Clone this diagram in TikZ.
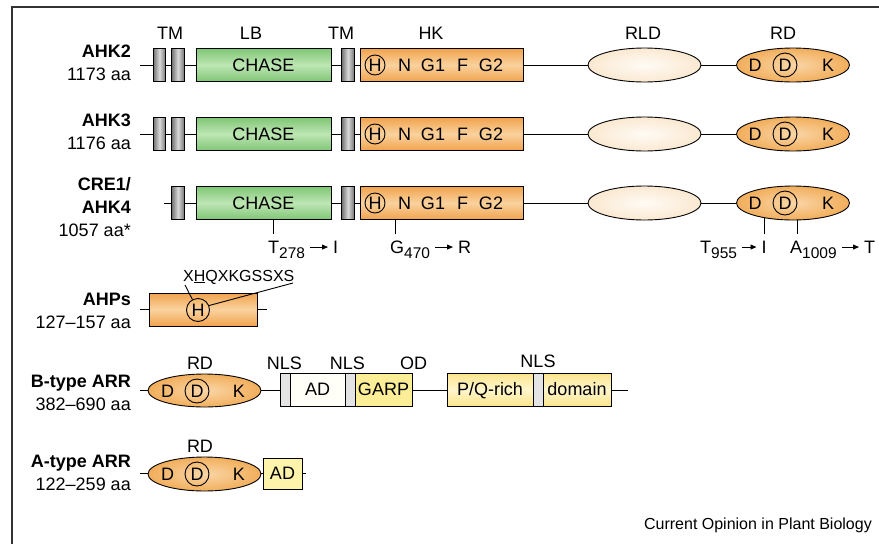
\documentclass[tikz,border=0pt]{standalone}
\usepackage{fontspec}
\setmainfont{Liberation Sans}
\usetikzlibrary{backgrounds,arrows.meta,shapes.geometric}

\definecolor{tmdark}{RGB}{115,115,115}
\definecolor{tmlight}{RGB}{218,218,218}
\definecolor{grnedge}{RGB}{128,198,118}
\definecolor{grnmid}{RGB}{190,230,180}
\definecolor{orgedge}{RGB}{240,163,78}
\definecolor{orgmid}{RGB}{250,210,158}
\definecolor{rdout}{RGB}{236,150,45}
\definecolor{rdin}{RGB}{250,214,168}
\definecolor{rldout}{RGB}{246,218,180}
\definecolor{rldin}{RGB}{255,251,245}
\definecolor{yeledge}{RGB}{252,228,140}
\definecolor{yelmid}{RGB}{255,246,205}
\definecolor{garpcol}{RGB}{252,238,150}
\definecolor{adcol}{RGB}{255,255,248}
\definecolor{nlscol}{RGB}{228,228,228}
\definecolor{aadcol}{RGB}{253,243,170}
\definecolor{framecol}{RGB}{50,50,50}

\pgfdeclareradialshading{rdshade}{\pgfpoint{0bp}{0bp}}{color(0bp)=(rdin); color(40bp)=(rdout); color(50bp)=(rdout)}
\pgfdeclareradialshading{rldshade}{\pgfpoint{0bp}{0bp}}{color(0bp)=(rldin); color(45bp)=(rldout); color(50bp)=(rldout)}

\newcommand{\mysub}[1]{\raisebox{-5pt}{\fontsize{15.5}{17}\selectfont #1}}

\begin{document}
\begin{tikzpicture}[x=1pt,y=-1pt,
  every node/.style={font=\fontsize{18}{21}\selectfont},
  outl/.style={draw=black, line width=0.9pt},
  txt/.style={inner sep=0pt, text height=12.9pt, text depth=0pt},
  tm/.style={outl, inner sep=0pt, minimum width=12.5pt, minimum height=33pt,
    left color=tmdark, right color=tmdark, middle color=tmlight},
  chase/.style={outl, txt, minimum width=135pt, minimum height=33pt,
    top color=grnedge, bottom color=grnedge, middle color=grnmid},
  hk/.style={outl, inner sep=0pt, minimum width=163pt, minimum height=33pt,
    top color=orgedge, bottom color=orgedge, middle color=orgmid},
  rld/.style={outl, ellipse, inner sep=0pt, minimum width=113pt, minimum height=34pt,
    shade, shading=rldshade},
  rd/.style={outl, ellipse, inner sep=0pt, minimum width=113pt, minimum height=34pt,
    shade, shading=rdshade},
  circ/.style={draw=black, line width=0.9pt, circle, inner sep=0pt, minimum size=20pt,
    text height=12.9pt, text depth=0pt},
  nls/.style={outl, inner sep=0pt, minimum width=10pt, minimum height=33pt, fill=nlscol},
  ybox/.style={outl, txt, minimum height=33pt, top color=yeledge, bottom color=yeledge, middle color=yelmid},
  bone/.style={line width=0.9pt},
  mutl/.style={inner sep=0pt, text height=12.9pt, text depth=1pt, anchor=base west},
  mutarrow/.style={line width=0.9pt, -{Triangle[length=6pt,width=5pt]}, shorten <=5pt, shorten >=5pt},
  namel/.style={anchor=base east, inner sep=0pt, font=\fontsize{18}{21}\selectfont\bfseries},
  sizel/.style={anchor=base east, inner sep=0pt},
  doml/.style={anchor=base, inner sep=0pt}
]
\useasboundingbox (0,0) rectangle (879,544);

% frame
\coordinate (fa) at (12,544);
\coordinate (fb) at (12,7);
\coordinate (fc) at (879,7);
\draw[framecol, line width=1.2pt] (fa) -- (fb) -- (fc);

% domain labels (top)
\node[doml] (dl1) at (170,39) {TM};
\node[doml] (dl2) at (251,39) {LB};
\node[doml] (dl3) at (341,39) {TM};
\node[doml] (dl4) at (431,39) {HK};
\node[doml] (dl5) at (643,39) {RLD};
\node[doml] (dl6) at (783,39) {RD};

% row names
\node[namel] (nm1) at (131,57) {AHK2};
\node[sizel] (sz1) at (131,80) {1173 aa};
\node[namel] (nm2) at (131,126) {AHK3};
\node[sizel] (sz2) at (131,149) {1176 aa};
\node[namel] (nm3a) at (131,190) {CRE1/};
\node[namel] (nm3b) at (131,213) {AHK4};
\node[sizel] (sz3) at (131,236) {1057 aa*};

% kinase rows
\foreach \r/\y/\s in {1/65/140,2/134/140,3/203/164}{
  \coordinate (bl\r) at (\s,\y);
  \node[chase] (ch\r) at (263.5,\y) {CHASE};
  \node[tm] (tmb\r) at (178,\y) {};
  \node[tm] (tmc\r) at (348,\y) {};
  \node[hk] (hk\r) at (441.5,\y) {};
  \node[circ] (hh\r) at (375,\y) {H};
  \node[txt] (hn\r) at (404.5,\y) {N};
  \node[txt] (hg\r) at (433,\y) {G1};
  \node[txt] (hf\r) at (462.5,\y) {F};
  \node[txt] (hgg\r) at (491,\y) {G2};
  \node[rld] (rld\r) at (644.5,\y) {};
  \node[rd] (rd\r) at (793,\y) {};
  \node[txt] (rdd\r) at (755,\y) {D};
  \node[circ, minimum size=24pt] (rdc\r) at (785,\y) {D};
  \node[txt] (rdk\r) at (828,\y) {K};
  \begin{pgfonlayer}{background}
    \draw[bone] (bl\r) -- (rd\r);
  \end{pgfonlayer}
}
\node[tm] (tma1) at (159.5,65) {};
\node[tm] (tma2) at (159.5,134) {};

% mutations (CRE1/AHK4)
\node[mutl] (mt1) at (268,253) {T\mysub{278}};
\node[mutl] (mr1) at (333,253) {I};
\node[mutl] (mt2) at (390,253) {G\mysub{470}};
\node[mutl] (mr2) at (458,253) {R};
\node[mutl] (mt3) at (700,253) {T\mysub{955}};
\node[mutl] (mr3) at (761.5,253) {I};
\node[mutl] (mt4) at (790,253) {A\mysub{1009}};
\node[mutl] (mr4) at (864,253) {T};
\draw[mutarrow] (mt1) -- (mr1);
\draw[mutarrow] (mt2) -- (mr2);
\draw[mutarrow] (mt3) -- (mr3);
\draw[mutarrow] (mt4) -- (mr4);
\coordinate (tk1) at (273,234);
\coordinate (tk2) at (395,234);
\coordinate (tk3) at (764,234);
\coordinate (tk4) at (797,234);
\begin{pgfonlayer}{background}
  \draw[bone] (tk1) -- (tk1 |- ch3.center);
  \draw[bone] (tk2) -- (tk2 |- hk3.center);
  \draw[bone] (tk3) -- (tk3 |- rd3.center);
  \draw[bone] (tk4) -- (tk4 |- rd3.center);
\end{pgfonlayer}

% AHPs
\node[namel] (nm4) at (131,305) {AHPs};
\node[sizel] (sz4) at (131,328) {127–157 aa};
\coordinate (bl4) at (140,309.5);
\coordinate (br4) at (267,309.5);
\node[hk, minimum width=108pt] (hp) at (203,309.5) {};
\node[circ, minimum size=23pt] (hph) at (198,310) {H};
\node[anchor=base west, inner sep=0pt, font=\fontsize{16}{19}\selectfont] (seq) at (183,281) {X\underline{H}QXKGSSXS};
\coordinate (sq1) at (185,285);
\coordinate (sq2) at (293,283);
\draw[bone] (hph.118) -- (sq1);
\draw[bone] (hph.22) -- (sq2);
\begin{pgfonlayer}{background}
  \draw[bone] (bl4) -- (br4);
\end{pgfonlayer}

% B-type ARR
\node[namel] (nm5) at (131,387) {B-type ARR};
\node[sizel] (sz5) at (131,410) {382–690 aa};
\node[doml] (bl5l1) at (200,369) {RD};
\node[doml] (bl5l2) at (284.5,369) {NLS};
\node[doml] (bl5l3) at (347.5,369) {NLS};
\node[doml] (bl5l4) at (413.5,369) {OD};
\node[doml] (bl5l5) at (538,367) {NLS};
\coordinate (bl5) at (140,390);
\coordinate (br5) at (628,390);
\node[rd, minimum height=33pt] (rd5) at (204.5,390.5) {};
\node[txt] (rdd5) at (167.5,391) {D};
\node[circ, minimum size=24pt] (rdc5) at (197,391) {D};
\node[txt] (rdk5) at (239,391) {K};
\node[outl, txt, minimum width=55pt, minimum height=33pt, fill=adcol] (ad5) at (317.5,389.5) {AD};
\node[outl, txt, minimum width=57pt, minimum height=33pt, fill=garpcol] (garp5) at (383.5,389.5) {GARP};
\node[nls] (nls5a) at (285,389.5) {};
\node[nls] (nls5b) at (350,389.5) {};
\node[ybox, minimum width=86pt] (pq5) at (490,389.5) {P/Q-rich};
\node[ybox, minimum width=68pt] (dom5) at (577,389.5) {domain};
\node[nls] (nls5c) at (538,389.5) {};
\begin{pgfonlayer}{background}
  \draw[bone] (bl5) -- (br5);
\end{pgfonlayer}

% A-type ARR
\node[namel] (nm6) at (131,467) {A-type ARR};
\node[sizel] (sz6) at (131,490) {122–259 aa};
\node[doml] (al6) at (200,452) {RD};
\coordinate (bl6) at (140,473.5);
\coordinate (br6) at (306,473.5);
\node[rd] (rd6) at (204.5,474) {};
\node[txt] (rdd6) at (167.5,474) {D};
\node[circ, minimum size=24pt] (rdc6) at (197,474) {D};
\node[txt] (rdk6) at (239,474) {K};
\node[outl, txt, minimum width=39pt, minimum height=31pt, fill=aadcol] (ad6) at (282.5,473.5) {AD};
\begin{pgfonlayer}{background}
  \draw[bone] (bl6) -- (br6);
\end{pgfonlayer}

% caption
\node[anchor=base east, inner sep=0pt, font=\fontsize{16}{19}\selectfont] (cap) at (872,529) {Current Opinion in Plant Biology};
\end{tikzpicture}
\end{document}
